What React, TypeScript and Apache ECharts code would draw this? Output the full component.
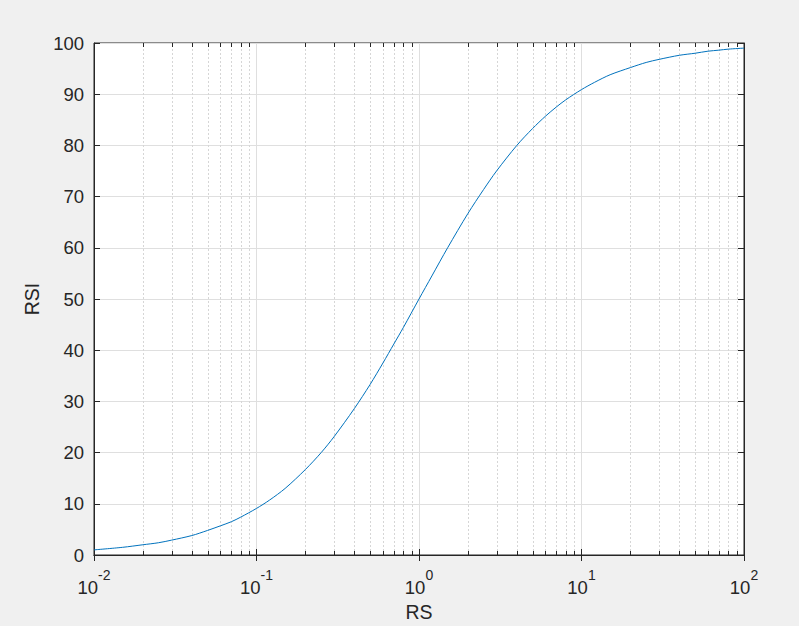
import React, { useEffect, useRef } from "react";
import * as echarts from "echarts";

// RS values (x, log scale) and RSI values (y)
const rsValues = [0.01, 0.015, 0.02, 0.025, 0.03, 0.04, 0.05, 0.06, 0.07, 0.08, 0.1, 0.12, 0.15, 0.2, 0.25, 0.3, 0.4, 0.5, 0.6, 0.7, 0.8, 1, 1.2, 1.5, 2, 2.5, 3, 4, 5, 6, 7, 8, 10, 12, 15, 20, 25, 30, 40, 50, 60, 70, 80, 100];
const rsiValues = [1.0, 1.5, 2.0, 2.4, 2.9, 3.8, 4.8, 5.7, 6.5, 7.4, 9.1, 10.7, 13.0, 16.7, 20.0, 23.1, 28.6, 33.3, 37.5, 41.2, 44.4, 50.0, 54.5, 60.0, 66.7, 71.4, 75.0, 80.0, 83.3, 85.7, 87.5, 88.9, 90.9, 92.3, 93.8, 95.2, 96.2, 96.8, 97.6, 98.0, 98.4, 98.6, 98.8, 99.0];

const xDecades = [0.01, 0.1, 1, 10];
const minorMultipliers = [2, 3, 4, 5, 6, 7, 8, 9];

const textColor = "#262626";
const font = "Arial, 'Liberation Sans', Helvetica, sans-serif";

export default function App() {
  const ref = useRef<HTMLDivElement>(null);
  useEffect(() => {
    if (!ref.current) return;
    const chart = echarts.init(ref.current, null, { renderer: "svg" });
    const minorPositions: number[][] = [];
    xDecades.forEach((d) => minorMultipliers.forEach((m) => minorPositions.push([+(d * m).toPrecision(3), 0])));

    const expLabel = (v: number) => {
      const e = Math.round(Math.log10(v));
      return `{b|10}{e|${e}}`;
    };
    const rich = {
      b: { fontSize: 18.5, fontFamily: font, color: textColor, verticalAlign: "bottom", lineHeight: 29 },
      e: { fontSize: 14, fontFamily: font, color: textColor, verticalAlign: "top", lineHeight: 14 },
    };

    chart.setOption({
      animation: false,
      backgroundColor: "#f0f0f0",
      grid: {
        left: 94,
        right: 55,
        top: 43,
        bottom: 71,
        show: true,
        backgroundColor: "#ffffff",
        borderColor: textColor,
        borderWidth: 1,
        containLabel: false,
        outerBoundsMode: "none",
      },
      xAxis: [
        {
          type: "log",
          logBase: 10,
          min: 0.01,
          max: 100,
          name: "RS",
          nameLocation: "middle",
          nameGap: 47,
          nameTextStyle: { fontSize: 19.5, fontFamily: font, color: textColor },
          axisLine: { show: true, lineStyle: { color: textColor, width: 1 } },
          axisTick: { show: true, inside: true, length: 6, lineStyle: { color: textColor } },
          axisLabel: { margin: 13, formatter: expLabel, rich },
          splitLine: { show: true, lineStyle: { color: "#dfdfdf", width: 1 } },
          minorTick: { show: false },
        },
        {
          type: "log",
          logBase: 10,
          min: 0.01,
          max: 100,
          position: "top",
          axisLine: { show: true, lineStyle: { color: textColor, width: 1 } },
          axisTick: { show: true, inside: true, length: 6, lineStyle: { color: textColor } },
          axisLabel: { show: false },
          splitLine: { show: false },
        },
      ],
      yAxis: [
        {
          type: "value",
          min: 0,
          max: 100,
          interval: 10,
          name: "RSI",
          nameLocation: "middle",
          nameGap: 48,
          nameRotate: 90,
          nameTextStyle: { fontSize: 19.5, fontFamily: font, color: textColor },
          axisLine: { show: true, lineStyle: { color: textColor, width: 1 } },
          axisTick: { show: true, inside: true, length: 6, lineStyle: { color: textColor } },
          axisLabel: { margin: 10, fontSize: 18.5, fontFamily: font, color: textColor },
          splitLine: { show: true, lineStyle: { color: "#dfdfdf", width: 1 } },
        },
        {
          type: "value",
          min: 0,
          max: 100,
          interval: 10,
          position: "right",
          axisLine: { show: true, lineStyle: { color: textColor, width: 1 } },
          axisTick: { show: true, inside: true, length: 6, lineStyle: { color: textColor } },
          axisLabel: { show: false },
          splitLine: { show: false },
        },
      ],
      series: [
        {
          type: "custom",
          xAxisIndex: 0,
          yAxisIndex: 0,
          silent: true,
          z: 1,
          data: minorPositions,
          renderItem: (params: any, api: any) => {
            const x = api.value(0);
            const bot = api.coord([x, 0]);
            const top = api.coord([x, 100]);
            const px = Math.round(bot[0]) + 0.5;
            return {
              type: "group",
              children: [
                { type: "line", shape: { x1: px, y1: bot[1], x2: px, y2: top[1] }, style: { stroke: "#d6d6d6", lineWidth: 1, lineDash: [2, 2] } },
                { type: "line", shape: { x1: px, y1: bot[1], x2: px, y2: bot[1] - 4 }, style: { stroke: textColor, lineWidth: 1 } },
                { type: "line", shape: { x1: px, y1: top[1], x2: px, y2: top[1] + 4 }, style: { stroke: textColor, lineWidth: 1 } },
              ],
            };
          },
        },
        {
          type: "line",
          xAxisIndex: 0,
          yAxisIndex: 0,
          data: rsValues.map((v, i) => [v, rsiValues[i]]),
          smooth: 0.3,
          showSymbol: false,
          z: 5,
          lineStyle: { color: "#0072BD", width: 1 },
        },
      ],
    });
    return () => chart.dispose();
  }, []);
  return <div ref={ref} style={{ position: "fixed", left: 0, top: 0, width: 799, height: 626 }} />;
}
